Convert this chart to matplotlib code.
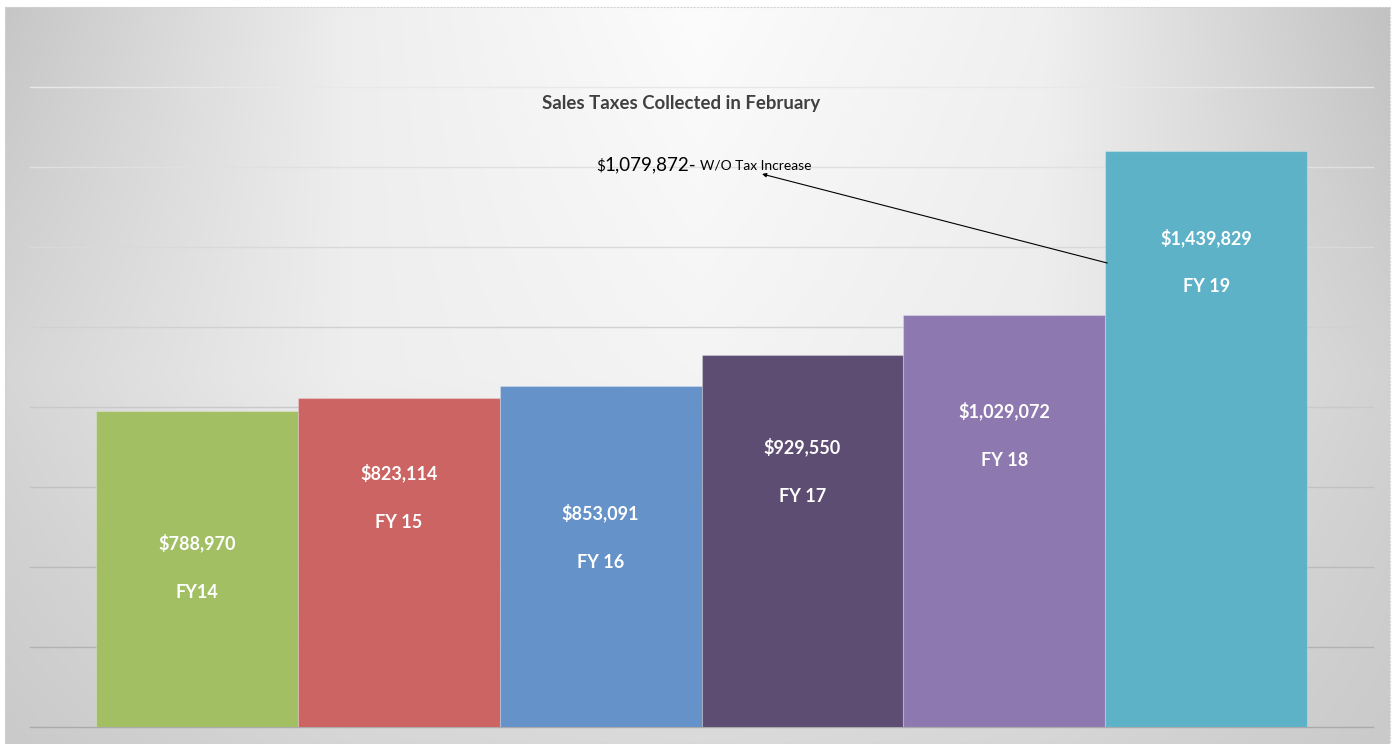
import numpy as np
import matplotlib
matplotlib.use("Agg")
import matplotlib.pyplot as plt
from matplotlib.patches import Rectangle

# ---------------- data ----------------
categories = ["FY14", "FY 15", "FY 16", "FY 17", "FY 18", "FY 19"]
values = [788970, 823114, 853091, 929550, 1029072, 1439829]
without_increase = 1079872
title = "Sales Taxes Collected in February"
note_text = "W/O Tax Increase"

# ---------------- style / layout ----------------
bar_colors = ["#A2BF64", "#CB6462", "#6592C8", "#5E4D72", "#8E78B0", "#5EB2C8"]
label_y = [460000, 635000, 535000, 700000, 790000, 1222500]   # value label placement
fy_gap = 122500
y_max = 1600000
y_step = 200000

W, H = 1397, 744
fig = plt.figure(figsize=(W / 100, H / 100), dpi=100)
fig.patch.set_facecolor("white")

# gradient panel background: smooth bilinear field from a few tone anchors
gx = np.array([0.0, 0.25, 0.5, 0.75, 1.0])
gy = np.array([0.0, 0.5, 1.0])  # top, middle, bottom
tones = np.array([
    [198, 238, 252, 240, 194],
    [214, 238, 244, 236, 210],
    [202, 214, 218, 214, 202],
], dtype=float)
nx, ny = 700, 370
xs = np.linspace(0, 1, nx)
ys = np.linspace(0, 1, ny)
rows = np.array([np.interp(xs, gx, tones[k]) for k in range(3)])
field = np.array([np.interp(ys, gy, rows[:, j]) for j in range(nx)]).T / 255.0
img = np.dstack([field] * 3)
bg = fig.add_axes([5 / W, 0, 1385 / W, 737 / H], zorder=0)
bg.imshow(img, aspect="auto", interpolation="bilinear", extent=[0, 1, 0, 1])
bg.set_axis_off()
fig.patches.append(Rectangle((5 / W, 0), 1385 / W, 737 / H, transform=fig.transFigure,
                             fill=False, edgecolor="#d4d4d4", lw=0.8, ls=(0, (2, 1)), zorder=1))

ax = fig.add_axes([30 / W, 17 / H, 1343 / W, 640 / H], zorder=2)
ax.patch.set_alpha(0)
x = np.arange(len(categories))
pad = 66 / 202
ax.set_xlim(-0.5 - pad, len(categories) - 0.5 + pad)
ax.set_ylim(0, y_max)

ticks = np.arange(0, y_max + 1, y_step)
for i, t in enumerate(ticks):
    g = (170 + (232 - 170) * i / (len(ticks) - 1)) / 255
    ax.axhline(t, color=(g, g, g), lw=1.0, zorder=0.5, clip_on=False)

ax.bar(x, values, width=1.0, color=bar_colors, edgecolor=(1, 1, 1, 0.25), lw=0.8, zorder=2)

fam = ["Lato", "DejaVu Sans"]
for xi, v, cat, ly in zip(x, values, categories, label_y):
    ax.text(xi, ly, f"${v:,.0f}", ha="center", va="center", color="white",
            fontsize=13, fontweight="bold", family=fam, zorder=3)
    ax.text(xi, ly - fy_gap, cat, ha="center", va="center", color="white",
            fontsize=13, fontweight="bold", family=fam, zorder=3)

for s in ax.spines.values():
    s.set_visible(False)
ax.set_xticks([])
ax.set_yticks([])

# title
fig.text(681 / W, 1 - 103 / H, title, ha="center", va="center", fontsize=13.4,
         fontweight="bold", color="#404040", family=fam)

# annotation text pieces
t1 = fig.text(596 / W, 1 - 170 / H, "$", ha="left", va="baseline", fontsize=11, color="black", family=fam)
fig.canvas.draw()
r = fig.canvas.get_renderer()
bb = t1.get_window_extent(r)
t2 = fig.text(bb.x1 / W, 1 - 170 / H, f"{without_increase:,}-", ha="left", va="baseline",
              fontsize=13.5, color="black", family=fam)
bb2 = t2.get_window_extent(r)
fig.text((bb2.x1 + 3) / W, 1 - 170 / H, note_text, ha="left", va="baseline",
         fontsize=10, color="black", family=fam)

# arrow from the FY19 bar toward the note
ax.annotate("", xy=(2.80, 1382500), xytext=(4.51, 1160000),
            arrowprops=dict(arrowstyle="-|>", color="black", lw=0.8,
                            mutation_scale=6, shrinkA=0, shrinkB=0), zorder=4)

fig.savefig("out.png", dpi=100)
